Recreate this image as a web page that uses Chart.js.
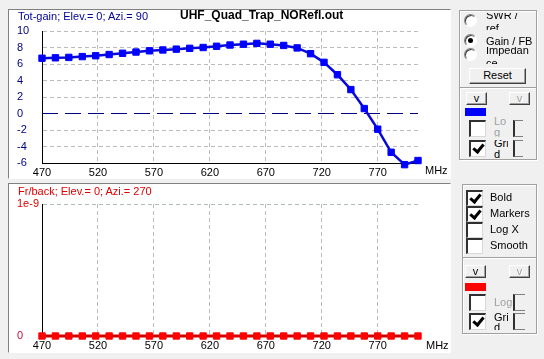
<!DOCTYPE html>
<html lang="en">
<head>
    <meta charset="UTF-8">
    <title>UHF_Quad_Trap_NORefl.out</title>
    <script src="https://cdn.jsdelivr.net/npm/chart.js"></script>
    <style>
        body {
            margin: 0;
            width: 544px;
            height: 359px;
            overflow: hidden;
            background: #f0f0f0;
            font-family: "Liberation Sans", Arial, sans-serif;
            font-size: 11px;
            position: relative;
        }
        .abs { position: absolute; }
        .panel {
            position: absolute;
            background: #fff;
            border-left: 1px solid #808080;
            border-top: 1px solid #808080;
            border-right: 1px solid #fff;
            border-bottom: 1px solid #fff;
        }
        .panel canvas { position: absolute; left: 0; top: 0; }
        .txt { position: absolute; white-space: nowrap; line-height: 13px; }
        .grp {
            position: absolute;
            box-sizing: border-box;
            border: 1px solid #a0a0a0;
            box-shadow: inset 1px 1px 0 #fff, 1px 1px 0 #fff;
        }
        .radio {
            position: absolute;
            box-sizing: border-box;
            width: 13px; height: 13px;
            border-radius: 50%;
            background: #fff;
            border: 1px solid;
            border-color: #808080 #fff #fff #808080;
            box-shadow: inset 1px 1px 0 #404040;
        }
        .radio.on::after {
            content: "";
            position: absolute;
            left: 3px; top: 3px;
            width: 5px; height: 5px;
            border-radius: 50%;
            background: #000;
        }
        .clip { position: absolute; overflow: hidden; }
        .clip div { line-height: 13px; white-space: nowrap; }
        .btn {
            position: absolute;
            box-sizing: border-box;
            background: #f0f0f0;
            border: 1px solid;
            border-color: #fff #404040 #404040 #fff;
            box-shadow: inset -1px -1px 0 #a0a0a0;
            text-align: center;
            font-size: 11px;
        }
        .btn.off { color: #a0a0a0; text-shadow: 1px 1px 0 #fff; }
        .chk {
            position: absolute;
            box-sizing: border-box;
            width: 17px; height: 17px;
            background: #fff;
            border-left: 2px solid #303030;
            border-top: 2px solid #303030;
            border-right: 1px solid #d8d8d8;
            border-bottom: 1px solid #d8d8d8;
        }
        .chk.on::after {
            content: "";
            position: absolute;
            left: 4px; top: 0px;
            width: 4px; height: 8px;
            border-right: 3px solid #000;
            border-bottom: 3px solid #000;
            transform: rotate(40deg);
        }
        .brk {
            position: absolute;
            box-sizing: border-box;
            border-left: 2px solid #303030;
            border-top: 1px solid #808080;
            border-bottom: 1px solid #808080;
        }
        .swatch { position: absolute; }
        .gray { color: #a0a0a0; }
    </style>
</head>
<body>

    <!-- top: total gain -->
    <div class="panel" style="left:8px; top:9px; width:441px; height:168px;">
        <canvas id="gainChart" width="441" height="168"></canvas>
    </div>
    <div class="txt" style="left:18px; top:10px; color:#000099;">Tot-gain; Elev.= 0; Azi.= 90</div>
    <div class="txt" style="left:180px; top:9px; font-weight:bold; font-size:12px;">UHF_Quad_Trap_NORefl.out</div>
    <div class="txt" style="left:425px; top:164px;">MHz</div>

    <!-- bottom: front/back -->
    <div class="panel" style="left:8px; top:183px; width:441px; height:168px;">
        <canvas id="fbChart" width="441" height="168"></canvas>
    </div>
    <div class="txt" style="left:18px; top:185px; color:#e00000;">Fr/back; Elev.= 0; Azi.= 270</div>
    <div class="txt" style="left:426px; top:339px;">MHz</div>

    <!-- right side controls -->
    <div class="grp" style="left:459px; top:10px; width:78px; height:78px;"></div>
    <div class="radio" style="left:464px; top:14px;"></div>
    <div class="clip" style="left:486px; top:13px; width:50px; height:17px;"><div style="margin-top:-4px;">SWR /<br>ref</div></div>
    <div class="radio on" style="left:464px; top:34px;"></div>
    <div class="clip" style="left:486px; top:33px; width:50px; height:17px;"><div style="margin-top:2px;">Gain / FB</div></div>
    <div class="radio" style="left:464px; top:48px;"></div>
    <div class="clip" style="left:486px; top:47px; width:50px; height:17px;"><div style="margin-top:-3px;">Impedan<br>ce</div></div>
    <div class="btn" style="left:469px; top:68px; width:57px; height:16px; line-height:13px;">Reset</div>

    <div class="grp" style="left:459px; top:87px; width:78px; height:73px;"></div>
    <div class="btn" style="left:466px; top:92px; width:21px; height:13px; line-height:10px;">v</div>
    <div class="btn off" style="left:509px; top:92px; width:21px; height:13px; line-height:10px;">v</div>
    <div class="swatch" style="left:465px; top:108px; width:21px; height:8px; background:#0000ff;"></div>
    <div class="chk" style="left:469px; top:120px;"></div>
    <div class="clip gray" style="left:494px; top:116px; width:14px; height:21px;"><div style="line-height:11px;">Lo<br>g</div></div>
    <div class="brk" style="left:513px; top:120px; width:10px; height:17px;"></div>
    <div class="chk on" style="left:469px; top:140px;"></div>
    <div class="clip" style="left:494px; top:140px; width:14px; height:18px;"><div style="line-height:11px; margin-top:-2px;">Gri<br>d</div></div>
    <div class="brk" style="left:513px; top:140px; width:10px; height:17px;"></div>

    <div class="grp" style="left:462px; top:184px; width:75px; height:74px;"></div>
    <div class="chk on" style="left:466px; top:190px; height:16px;"></div>
    <div class="chk on" style="left:466px; top:206px; height:16px;"></div>
    <div class="chk" style="left:466px; top:222px; height:16px;"></div>
    <div class="chk" style="left:466px; top:238px; height:16px;"></div>
    <div class="txt" style="left:490px; top:191px;">Bold</div>
    <div class="txt" style="left:490px; top:207px;">Markers</div>
    <div class="txt" style="left:490px; top:223px;">Log X</div>
    <div class="txt" style="left:490px; top:239px;">Smooth</div>

    <div class="grp" style="left:462px; top:257px; width:75px; height:77px;"></div>
    <div class="btn" style="left:465px; top:265px; width:21px; height:13px; line-height:10px;">v</div>
    <div class="btn off" style="left:509px; top:265px; width:21px; height:13px; line-height:10px;">v</div>
    <div class="swatch" style="left:465px; top:283px; width:21px; height:8px; background:#ff0000;"></div>
    <div class="chk" style="left:469px; top:294px;"></div>
    <div class="txt gray" style="left:494px; top:296px;">Log</div>
    <div class="brk" style="left:513px; top:294px; width:12px; height:17px;"></div>
    <div class="chk on" style="left:469px; top:313px;"></div>
    <div class="clip" style="left:494px; top:313px; width:14px; height:17px;"><div style="line-height:10px; margin-top:-1px;">Gri<br>d</div></div>
    <div class="brk" style="left:513px; top:313px; width:12px; height:17px;"></div>

    <script>
        // Frequency sweep, MHz
        const freqs = [470, 482, 494, 506, 518, 530, 542, 554, 566, 578, 590, 602, 614, 626, 638,
                       650, 662, 674, 686, 698, 710, 722, 734, 746, 758, 770, 782, 794, 806];

        // Total gain, dBi
        const gainDb = [6.7, 6.75, 6.8, 6.9, 7.0, 7.15, 7.3, 7.45, 7.6, 7.7, 7.8, 7.9, 8.0, 8.15, 8.3,
                        8.4, 8.5, 8.4, 8.25, 7.95, 7.25, 6.2, 4.7, 2.9, 0.6, -1.9, -4.7, -6.2, -5.7];

        // Front/back ratio (all zero for this file)
        const fbRatio = [0, 0, 0, 0, 0, 0, 0, 0, 0, 0, 0, 0, 0, 0, 0,
                         0, 0, 0, 0, 0, 0, 0, 0, 0, 0, 0, 0, 0, 0];

        // tick labels
        const freqTicks = [470, 520, 570, 620, 670, 720, 770];
        const gainTicks = [-6, -4, -2, 0, 2, 4, 6, 8, 10];
        const fbTicks = [0, 1e-9];

        // dashed 0 dB reference line
        const zeroRefX = [470, 806];
        const zeroRefY = [0, 0];

        const labelFont = { family: "'Liberation Sans', Arial, sans-serif", size: 11 };
        const gridColor = '#bcbcbc';

        function toPoints(xs, ys) {
            return xs.map((x, i) => ({ x: x, y: ys[i] }));
        }

        function xScale(height) {
            return {
                type: 'linear',
                min: freqs[0],
                max: freqs[freqs.length - 1],
                afterBuildTicks: s => { s.ticks = freqTicks.map(v => ({ value: v })); },
                afterFit: s => { s.height = height; },
                grid: { drawTicks: false, color: gridColor },
                border: { color: '#000', width: 1, dash: [4, 3] },
                ticks: { color: '#000', font: labelFont, padding: 3, maxRotation: 0, autoSkip: false }
            };
        }

        // Gain chart
        new Chart(document.getElementById('gainChart').getContext('2d'), {
            type: 'line',
            data: {
                datasets: [{
                    data: toPoints(freqs, gainDb),
                    borderColor: '#0808d8',
                    borderWidth: 2.5,
                    pointStyle: 'rect',
                    pointRadius: 4.5,
                    pointBackgroundColor: '#0000ff',
                    pointBorderColor: '#0000ff',
                    pointBorderWidth: 1,
                    tension: 0,
                    clip: false
                }, {
                    data: toPoints(zeroRefX, zeroRefY),
                    borderColor: '#000080',
                    borderWidth: 1,
                    borderDash: [16, 7],
                    pointRadius: 0
                }]
            },
            options: {
                responsive: false,
                animation: false,
                layout: { padding: { left: 8, top: 21, right: 32, bottom: 0 } },
                plugins: { legend: { display: false }, tooltip: { enabled: false } },
                scales: {
                    x: xScale(15),
                    y: {
                        min: -6,
                        max: 10,
                        afterBuildTicks: s => { s.ticks = gainTicks.map(v => ({ value: v })); },
                        afterFit: s => { s.width = 25; },
                        grid: {
                            drawTicks: false,
                            color: ctx => (ctx.tick && ctx.tick.value === 0) ? 'rgba(0,0,0,0)' : gridColor
                        },
                        border: { color: '#000', width: 1, dash: [4, 3] },
                        ticks: { color: '#000080', font: labelFont, crossAlign: 'far', padding: 0 }
                    }
                }
            }
        });

        // Front/back chart
        new Chart(document.getElementById('fbChart').getContext('2d'), {
            type: 'line',
            data: {
                datasets: [{
                    data: toPoints(freqs, fbRatio),
                    borderColor: '#d00000',
                    borderWidth: 3,
                    pointStyle: 'rect',
                    pointRadius: 4.5,
                    pointBackgroundColor: '#ff0000',
                    pointBorderColor: '#ff0000',
                    pointBorderWidth: 1,
                    tension: 0,
                    clip: false
                }]
            },
            options: {
                responsive: false,
                animation: false,
                layout: { padding: { left: 8, top: 20, right: 32, bottom: 0 } },
                plugins: { legend: { display: false }, tooltip: { enabled: false } },
                scales: {
                    x: xScale(16),
                    y: {
                        min: 0,
                        max: 1e-9,
                        afterBuildTicks: s => { s.ticks = fbTicks.map(v => ({ value: v })); },
                        afterFit: s => { s.width = 25; },
                        grid: { drawTicks: false, color: '#b0bcbc' },
                        border: { color: '#000', width: 1, dash: [4, 3] },
                        ticks: {
                            font: labelFont,
                            crossAlign: 'far',
                            padding: 0,
                            color: ctx => ctx.tick.value === 0 ? '#c8103c' : '#e00000',
                            callback: v => v === 0 ? '0' : '1e-9'
                        }
                    }
                }
            }
        });
    </script>

</body>
</html>
